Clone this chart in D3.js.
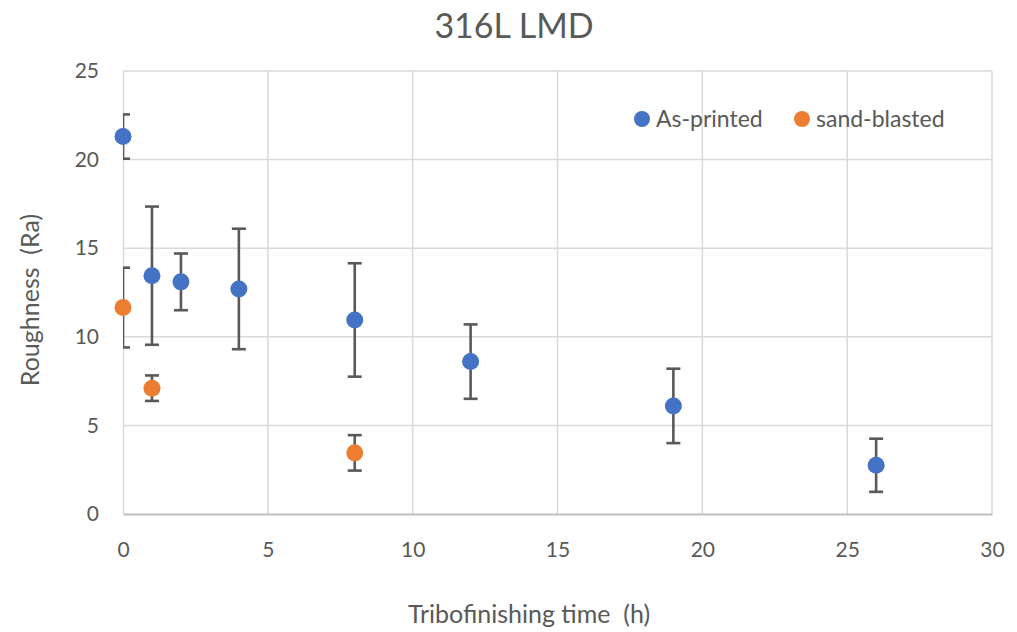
<!DOCTYPE html>
<html>
<head>
<meta charset="utf-8">
<script src="https://cdn.jsdelivr.net/npm/d3@7"></script>
<style>
  body { margin: 0; background: #fff; }
  text { font-family: Lato, "Open Sans", sans-serif; fill: #595959; white-space: pre; }
</style>
</head>
<body>
<div id="chart"></div>
<script>
// Data
const asPrintedTime = [0, 1, 2, 4, 8, 12, 19, 26],
  asPrintedRa = [21.3, 13.45, 13.1, 12.7, 10.95, 8.6, 6.1, 2.75],
  asPrintedErr = [1.25, 3.9, 1.6, 3.4, 3.2, 2.1, 2.1, 1.5];

const sandTime = [0, 1, 8],
  sandRa = [11.65, 7.1, 3.45],
  sandErr = [2.25, 0.72, 1.0];

const xTicks = [0, 5, 10, 15, 20, 25, 30],
  yTicks = [0, 5, 10, 15, 20, 25];

const seriesNames = ["As-printed", "sand-blasted"],
  seriesColors = ["#4472c4", "#ed7d31"];

// Layout
const width = 1017,
  height = 632,
  margin = { left: 123, right: 25, top: 71, bottom: 118 };

const x = d3.scaleLinear().domain([0, 30]).range([margin.left, width - margin.right]);
const y = d3.scaleLinear().domain([0, 25]).range([height - margin.bottom, margin.top]);

const svg = d3.select("#chart").append("svg")
  .attr("width", width)
  .attr("height", height);

svg.append("defs").append("clipPath").attr("id", "plot-clip")
  .append("rect")
  .attr("x", x(0)).attr("y", y(25))
  .attr("width", x(30) - x(0)).attr("height", y(0) - y(25));

// Gridlines
svg.append("g").selectAll("line.h")
  .data(yTicks.slice(1))
  .enter().append("line")
    .attr("x1", x(0)).attr("x2", x(30))
    .attr("y1", d => y(d)).attr("y2", d => y(d))
    .attr("stroke", "#d9d9d9").attr("stroke-width", 1.5);

svg.append("g").selectAll("line.v")
  .data(xTicks.slice(1))
  .enter().append("line")
    .attr("x1", d => x(d)).attr("x2", d => x(d))
    .attr("y1", y(0)).attr("y2", y(25))
    .attr("stroke", "#d9d9d9").attr("stroke-width", 1.5);

// Axes
const xAxis = svg.append("g")
  .attr("transform", "translate(0," + y(0) + ")")
  .call(d3.axisBottom(x).tickValues(xTicks).tickSize(0).tickPadding(28));
xAxis.select(".domain").attr("stroke", "#bfbfbf").attr("stroke-width", 2);
xAxis.selectAll("text").style("font-size", "21px").attr("fill", "#595959");

const yAxis = svg.append("g")
  .attr("transform", "translate(" + x(0) + ",0)")
  .call(d3.axisLeft(y).tickValues(yTicks).tickSize(0).tickPadding(24));
yAxis.select(".domain").attr("stroke", "#d9d9d9").attr("stroke-width", 1.5);
yAxis.selectAll("text").style("font-size", "21px").attr("fill", "#595959");

// Titles
svg.append("text")
  .attr("x", 514).attr("y", 38)
  .attr("text-anchor", "middle")
  .style("font-size", "34px")
  .text("316L LMD");

svg.append("text")
  .attr("x", 529).attr("y", 623)
  .attr("text-anchor", "middle")
  .style("font-size", "25px")
  .text("Tribofinishing time  (h)");

svg.append("text")
  .attr("transform", "translate(39,300) rotate(-90)")
  .attr("text-anchor", "middle")
  .style("font-size", "25px")
  .text("Roughness  (Ra)");

// Error bars then markers
const series = [
  { t: asPrintedTime, v: asPrintedRa, e: asPrintedErr, color: seriesColors[0] },
  { t: sandTime, v: sandRa, e: sandErr, color: seriesColors[1] },
];

const capHalf = 7;
series.forEach(s => {
  const pts = s.t.map((t, i) => ({ t: t, v: s.v[i], e: s.e[i] }));
  const g = svg.append("g").attr("clip-path", "url(#plot-clip)")
    .attr("stroke", "#595959").attr("stroke-width", 2.6);
  g.selectAll("line.bar").data(pts).enter().append("line")
    .attr("x1", d => x(d.t)).attr("x2", d => x(d.t))
    .attr("y1", d => y(d.v + d.e)).attr("y2", d => y(d.v - d.e));
  g.selectAll("line.top").data(pts).enter().append("line")
    .attr("x1", d => x(d.t) - capHalf).attr("x2", d => x(d.t) + capHalf)
    .attr("y1", d => y(d.v + d.e)).attr("y2", d => y(d.v + d.e));
  g.selectAll("line.bot").data(pts).enter().append("line")
    .attr("x1", d => x(d.t) - capHalf).attr("x2", d => x(d.t) + capHalf)
    .attr("y1", d => y(d.v - d.e)).attr("y2", d => y(d.v - d.e));
});

series.forEach(s => {
  svg.append("g").selectAll("circle")
    .data(s.t.map((t, i) => ({ t: t, v: s.v[i] })))
    .enter().append("circle")
      .attr("cx", d => x(d.t))
      .attr("cy", d => y(d.v))
      .attr("r", 8.5)
      .attr("fill", s.color);
});

// Legend
const legendX = [642, 802];
seriesNames.forEach((name, i) => {
  const lg = svg.append("g").attr("transform", "translate(" + legendX[i] + ",119)");
  lg.append("circle").attr("r", 8).attr("fill", seriesColors[i]);
  lg.append("text").attr("x", 14).attr("y", 8)
    .style("font-size", "23px")
    .text(name);
});
</script>
</body>
</html>
